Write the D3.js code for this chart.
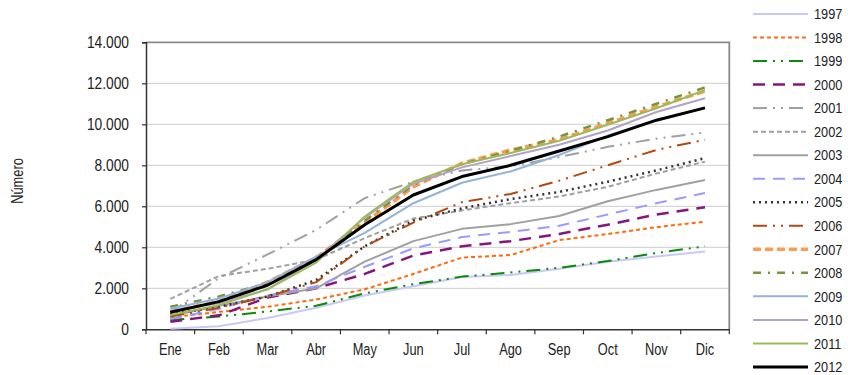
<!DOCTYPE html>
<html><head><meta charset="utf-8">
<script src="https://cdn.jsdelivr.net/npm/d3@7"></script>
<style>
html,body{margin:0;padding:0;background:#fff;}
svg text{font-family:"Liberation Sans",Arial,sans-serif;fill:#222;}
</style></head>
<body><svg id="c" width="848" height="375"></svg>
<script>
const months = ["Ene","Feb","Mar","Abr","May","Jun","Jul","Ago","Sep","Oct","Nov","Dic"];
const years = ["1997","1998","1999","2000","2001","2002","2003","2004","2005","2006","2007","2008","2009","2010","2011","2012"];
const yTicks = [0,2000,4000,6000,8000,10000,12000,14000];
const v1997 = [30, 150, 550, 1050, 1650, 2100, 2550, 2650, 2950, 3300, 3550, 3800];
const v1998 = [580, 850, 1100, 1450, 1950, 2700, 3500, 3620, 4350, 4650, 4980, 5250];
const v1999 = [450, 620, 870, 1150, 1750, 2200, 2570, 2770, 3000, 3330, 3720, 4050];
const v2000 = [370, 680, 1550, 2000, 2700, 3600, 4050, 4300, 4650, 5100, 5600, 5950];
const v2001 = [800, 2500, 3650, 4850, 6400, 7200, 7750, 7950, 8400, 8900, 9300, 9600];
const v2002 = [1480, 2600, 2950, 3400, 4450, 5400, 5800, 6150, 6480, 6950, 7600, 8180];
const v2003 = [650, 1150, 1600, 2000, 3300, 4300, 4900, 5130, 5530, 6250, 6800, 7280];
const v2004 = [500, 1000, 1650, 2100, 3050, 3950, 4500, 4750, 5050, 5600, 6150, 6650];
const v2005 = [750, 1100, 1600, 2400, 4050, 5300, 5900, 6350, 6700, 7200, 7750, 8350];
const v2006 = [620, 1050, 1600, 2300, 4050, 5200, 6200, 6600, 7250, 8000, 8750, 9250];
const v2007 = [850, 1350, 2300, 3500, 5200, 6950, 8100, 8750, 9250, 10050, 10850, 11620];
const v2008 = [1100, 1600, 2250, 3450, 5300, 7050, 8050, 8700, 9400, 10200, 11000, 11800];
const v2009 = [1000, 1500, 2300, 3550, 4700, 6150, 7150, 7700, 8500, 9450, 10200, 10800];
const v2010 = [900, 1270, 1950, 3400, 5450, 7100, 7900, 8450, 9000, 9700, 10600, 11270];
const v2011 = [700, 1180, 1950, 3250, 5500, 7200, 8050, 8600, 9200, 9980, 10780, 11670];
const v2012 = [830, 1350, 2150, 3400, 5100, 6550, 7450, 8000, 8700, 9400, 10200, 10800];
const values = [v1997,v1998,v1999,v2000,v2001,v2002,v2003,v2004,v2005,v2006,v2007,v2008,v2009,v2010,v2011,v2012];

const styles = {
  "1997":{c:"#c9c9f7",w:2,d:null},
  "1998":{c:"#ff6a0e",w:2,d:"4,3"},
  "1999":{c:"#0a8a0a",w:2,d:"14,6,2,6,2,6"},
  "2000":{c:"#85157f",w:2.5,d:"12,8"},
  "2001":{c:"#a0a0a0",w:2,d:"14,6,2,6,2,6"},
  "2002":{c:"#a0a0a0",w:2,d:"5,3"},
  "2003":{c:"#a0a0a0",w:2,d:null},
  "2004":{c:"#9a9aff",w:2,d:"12,8"},
  "2005":{c:"#333333",w:2.5,d:"2,4"},
  "2006":{c:"#b04a10",w:2,d:"14,6,2,6,2,6"},
  "2007":{c:"#ff9a50",w:3.5,d:"8,4"},
  "2008":{c:"#77933c",w:2.5,d:"8,7,2,7"},
  "2009":{c:"#95b3d7",w:2,d:null},
  "2010":{c:"#b3a2c7",w:2,d:null},
  "2011":{c:"#9bbb59",w:2,d:null},
  "2012":{c:"#000000",w:3,d:null}
};

const L = 146, R = 729.3, T = 42.3, B = 329.3;
const FS = 16;
const svg = d3.select("#c");
const x = d3.scaleBand().domain(months).range([L, R]);
const y = d3.scaleLinear().domain([0, 14000]).range([B, T]);

// gridlines
svg.append("g").selectAll("line").data(yTicks.filter(t=>t>0 && t<14000)).join("line")
  .attr("x1", L).attr("x2", R).attr("y1", d=>y(d)).attr("y2", d=>y(d))
  .attr("stroke", "#d6d6d6").attr("stroke-width", 1.2);
// frame top/right
svg.append("path").attr("d", `M${L},${y(14000)}H${R}V${B}`)
  .attr("fill","none").attr("stroke","#8a8a8a").attr("stroke-width",1.8);

// y axis
const ya = svg.append("g").attr("transform", `translate(${L},0)`)
  .call(d3.axisLeft(y).tickValues(yTicks).tickSize(4).tickPadding(13)
    .tickFormat(d => d3.format(",")(d).replace(/,/g, ".")));
ya.select(".domain").attr("stroke","#333").attr("stroke-width",1.5);
ya.selectAll(".tick line").attr("stroke","#333").attr("stroke-width",1.2);
ya.selectAll("text").attr("font-size", FS).attr("font-family", null).attr("data-n", 0.86);

// x axis
const xa = svg.append("g").attr("transform", `translate(0,${B})`)
  .call(d3.axisBottom(x).tickSize(0).tickPadding(14));
xa.select(".domain").attr("stroke","#333").attr("stroke-width",1.5);
xa.selectAll("text").attr("font-size", FS).attr("font-family", null);
svg.append("g").selectAll("line").data(d3.range(months.length + 1)).join("line")
  .attr("x1", i => L + i * x.step()).attr("x2", i => L + i * x.step())
  .attr("y1", B).attr("y2", B + 5).attr("stroke", "#333").attr("stroke-width", 1.2);

// y title
svg.append("text").attr("transform", "translate(23,181) rotate(-90)")
  .attr("text-anchor", "middle").attr("font-size", FS).text("Número");

// lines
const line = d3.line().x((d,i) => x(months[i]) + x.bandwidth()/2).y(d => y(d));
years.forEach((yr, k) => {
  const s = styles[yr];
  svg.append("path").datum(values[k]).attr("d", line)
    .attr("fill","none").attr("stroke", s.c).attr("stroke-width", s.w)
    .attr("stroke-dasharray", s.d).attr("stroke-linejoin","round");
});

// legend
const lg = svg.append("g");
years.forEach((yr, k) => {
  const s = styles[yr];
  const yy = 14 + k * 23.53;
  lg.append("line").attr("x1", 753).attr("x2", 808).attr("y1", yy).attr("y2", yy)
    .attr("stroke", s.c).attr("stroke-width", s.w).attr("stroke-dasharray", s.d);
  lg.append("text").attr("x", 814).attr("y", yy).attr("dy", "0.35em")
    .attr("font-size", 15).attr("data-n", 0.85).text(yr);
});

// condense all text to mimic a narrow typeface
svg.selectAll("text").each(function(){
  const w = this.getComputedTextLength();
  const n = +(this.getAttribute("data-n") || 0.8);
  if (w > 0) {
    this.setAttribute("textLength", (w * n).toFixed(2));
    this.setAttribute("lengthAdjust", "spacingAndGlyphs");
  }
});
</script></body></html>
